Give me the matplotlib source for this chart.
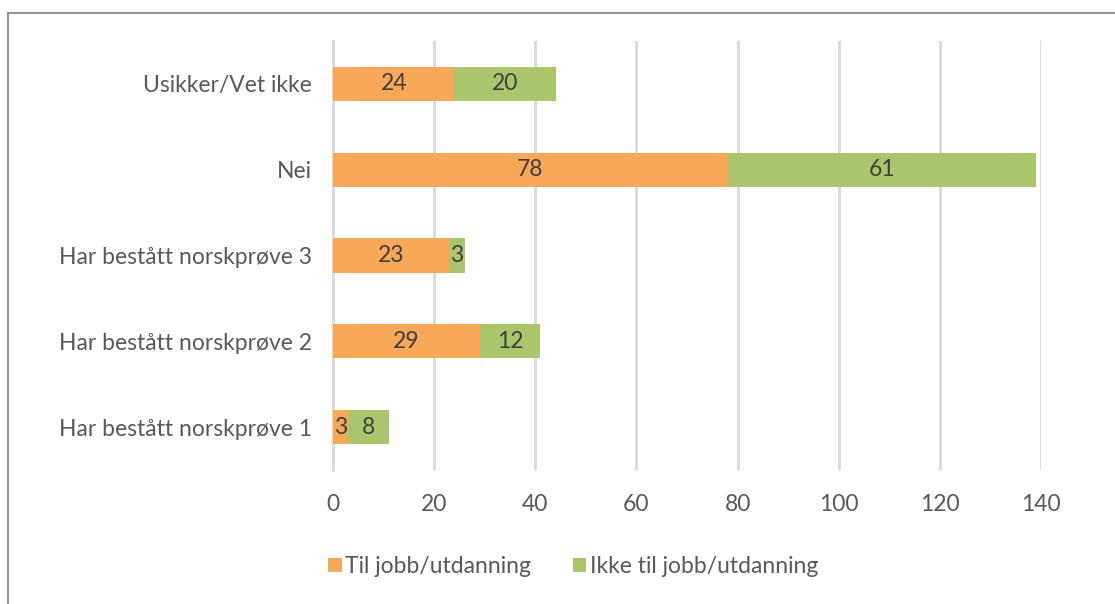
import matplotlib.pyplot as plt
from matplotlib.lines import Line2D
from matplotlib.patches import Patch

categories = ["Har bestått norskprøve 1", "Har bestått norskprøve 2",
              "Har bestått norskprøve 3", "Nei", "Usikker/Vet ikke"]
til_jobb = [3, 29, 23, 78, 24]
ikke_til_jobb = [8, 12, 3, 61, 20]
series_labels = ["Til jobb/utdanning", "Ikke til jobb/utdanning"]
x_ticks = [0, 20, 40, 60, 80, 100, 120, 140]

orange = "#F9A857"
green = "#AAC56B"
text_col = "#595959"

plt.rcParams["font.family"] = ["Lato", "DejaVu Sans"]

fig = plt.figure(figsize=(11.15, 6.04), dpi=100)
ax = fig.add_axes([0.2987, 0.2219, 0.6350, 0.7102])

y = list(range(len(categories)))
b1 = ax.barh(y, til_jobb, height=0.4, color=orange, zorder=3)
b2 = ax.barh(y, ikke_til_jobb, left=til_jobb, height=0.4, color=green, zorder=3)

for bars, vals, lefts in [(b1, til_jobb, [0] * len(y)), (b2, ikke_til_jobb, til_jobb)]:
    for yi, v, l in zip(y, vals, lefts):
        ax.text(l + v / 2, yi, str(v), ha="center", va="center",
                fontsize=16.5, color="#404040", zorder=4)

ax.set_xlim(0, 140)
ax.set_ylim(-0.5, 4.5)
ax.set_xticks(x_ticks)
ax.set_yticks(y)
ax.set_yticklabels(categories)
ax.tick_params(axis="both", length=0, labelsize=16.5, labelcolor=text_col)
ax.tick_params(axis="x", pad=17)
ax.tick_params(axis="y", pad=15)
ax.xaxis.grid(True, color="#D9D9D9", linewidth=2, zorder=0)
for s in ["top", "right", "bottom"]:
    ax.spines[s].set_visible(False)
ax.spines["left"].set_color("#D9D9D9")
ax.spines["left"].set_linewidth(2)

handles = [Patch(facecolor=orange), Patch(facecolor=green)]
fig.legend(handles, series_labels, loc="center", bbox_to_anchor=(0.514, 0.062),
           ncol=2, frameon=False, fontsize=16.5, labelcolor=text_col,
           handlelength=0.6, handleheight=0.6, handletextpad=0.15, columnspacing=1.8)

# chart frame (cropped: only left and top edges visible)
fig.add_artist(Line2D([8 / 1115, 8 / 1115], [0, 1 - 13 / 604],
                      transform=fig.transFigure, color="#7F7F7F", linewidth=1.2))
fig.add_artist(Line2D([8 / 1115, 1], [1 - 13 / 604, 1 - 13 / 604],
                      transform=fig.transFigure, color="#7F7F7F", linewidth=1.2))

fig.savefig("out.png", dpi=100)
